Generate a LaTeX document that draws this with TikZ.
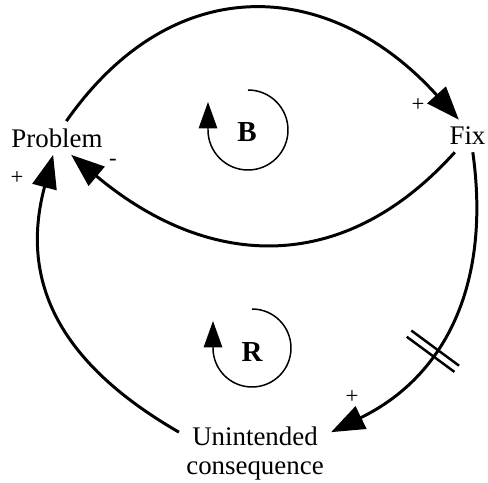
\documentclass[tikz,border=0pt]{standalone}
\usepackage{fontspec}
\setmainfont{Liberation Serif}
\usetikzlibrary{arrows.meta}

\tikzset{
  var/.style={inner sep=4pt, font=\fontsize{15.3}{16.5}\selectfont},
  link/.style={line width=1.7pt, -{Triangle[length=19pt,width=14pt]}},
  loopsign/.style={font=\fontsize{16.5}{18}\selectfont\bfseries},
  loopmark/.style={line width=0.85pt, -{Triangle[length=15pt,width=10.5pt]}},
  polarity/.style={font=\fontsize{13}{15}\selectfont, inner sep=0pt},
  delaybar/.style={sloped, inner sep=0pt, minimum width=2.7pt, minimum height=32pt},
  delaystroke/.style={line width=1.4pt}
}

\begin{document}
\begin{tikzpicture}[x=0.2mm, y=0.2mm]
  \useasboundingbox (0,0) rectangle (488,483);

  \node[var] (prob) at (57,345) {Problem};
  \node[var] (fix) at (467.5,347) {Fix};
  \node[var, align=center] (unint) at (255,29) {Unintended\\consequence};

  % loop markers
  \node[loopsign] (B) at (247,351) {B};
  \node[loopsign] (R) at (252,131) {R};
  \draw[loopmark] (B) ++(1,42) arc[start angle=90, end angle=-180, radius=40] -- ++(0,28);
  \draw[loopmark] (R) ++(0,43) arc[start angle=90, end angle=-180, radius=39] -- ++(0,27);

  % balancing loop
  \draw[link] (prob.61) to[out=55, in=132, looseness=1.23] (fix.118);
  \draw[link] (fix.232) to[out=228, in=-40, looseness=1.15] (prob.-50);
  % reinforcing loop, with delay
  \draw[link] (fix.-72) to[out=-82, in=26, looseness=1.06]
    node[pos=0.62, delaybar] (delay) {} (unint.16);
  \draw[delaystroke] (delay.north west) -- (delay.south west)
    (delay.north east) -- (delay.south east);
  \draw[link] (unint.164) to[out=150, in=255, looseness=1.13] (prob.-103);

  % polarities
  \node[polarity] (pfix) at (418,378) {+};
  \node[polarity] (mprob) at (113,321) {-};
  \node[polarity] (pprob) at (17,305) {+};
  \node[polarity] (punint) at (352,86) {+};
\end{tikzpicture}
\end{document}
